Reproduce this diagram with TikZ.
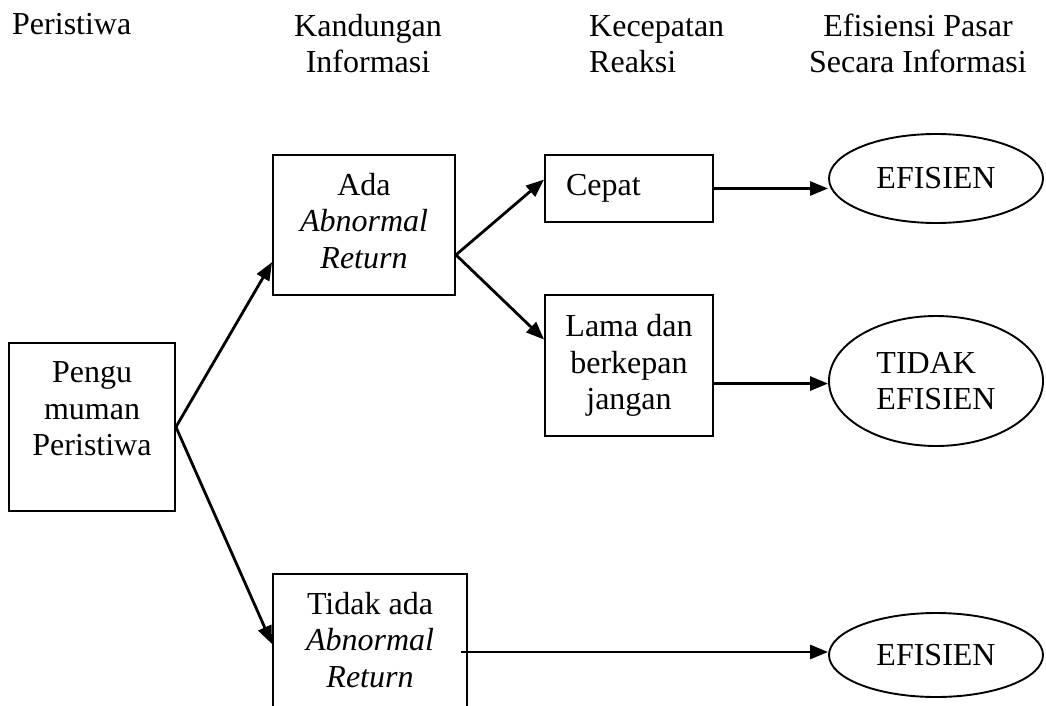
\documentclass[tikz,border=0pt]{standalone}
\usepackage{fontspec}
\setmainfont{Liberation Serif}
\usetikzlibrary{shapes.geometric,arrows.meta,calc}

\begin{document}
\begin{tikzpicture}[x=1pt, y=-1pt,
    every node/.style={font=\fontsize{32}{36.5}\selectfont, inner sep=0pt},
    box/.style={draw, line width=1.9pt, align=center},
    oval/.style={ellipse, draw, line width=1.9pt, minimum width=214pt},
    link/.style={line width=2.8pt, -{Triangle[length=18pt, width=14pt]}}]
    \useasboundingbox (0,0) rectangle (1046,706);
    \clip (0,0) rectangle (1046,706);

    % --- Column headings ---
    \node[anchor=base west] (hperistiwa) at (12,35) {Peristiwa};
    \node[align=center] (hkandungan) at (368,43.5) {Kandungan\\Informasi};
    \node[align=left, anchor=west] (hkecepatan) at (589,44) {Kecepatan\\Reaksi};
    \node[align=center] (hefisiensi) at (918,43.5) {Efisiensi Pasar\\Secara Informasi};

    % --- Boxes (placed at measured centres) ---
    \node[box, minimum width=166pt, minimum height=168pt] (pengumuman) at (92,427) {Pengu\\muman\\Peristiwa\\\mbox{}};
    \node[box, minimum width=182pt, minimum height=140pt] (ada) at (364,225) {Ada\\\textit{Abnormal}\\\textit{Return}\\[-28pt]\mbox{}};
    \node[box, minimum width=194pt, minimum height=140pt] (tidakada) at (370,644) {Tidak ada\\\textit{Abnormal}\\\textit{Return}\\[-28pt]\mbox{}};
    \node[box, align=left, text width=126pt, inner xsep=21pt, minimum height=67pt] (cepat) at (629,188.5) {Cepat};
    \node[box, minimum width=168pt, minimum height=141pt] (lama) at (629,365.5) {Lama dan\\berkepan\\jangan};

    % --- Ellipses ---
    \node[oval, minimum height=89pt] (efisien1) at (936,178.5) {EFISIEN};
    \node[oval, minimum height=130pt, align=left] (tidakefisien) at (936,381) {TIDAK\\EFISIEN};
    \node[oval, minimum height=84pt] (efisien2) at (936,655) {EFISIEN};

    % --- Arrows ---
    \draw[link] (pengumuman.east) -- (ada.202);
    \draw[link] (pengumuman.east) -- (tidakada.west);
    \draw[link] (ada.-18) -- (cepat.174);
    \draw[link] (ada.-18) -- (lama.163);
    \draw[link] (cepat.east) -- (cepat.east -| efisien1.west);
    \draw[link] (lama.-12) -- (lama.-12 -| tidakefisien.west);
    \coordinate (tidakout) at ($(tidakada.east)+(-7,8)$);
    \draw[link] (tidakout) -- (tidakout -| efisien2.west);
\end{tikzpicture}
\end{document}
